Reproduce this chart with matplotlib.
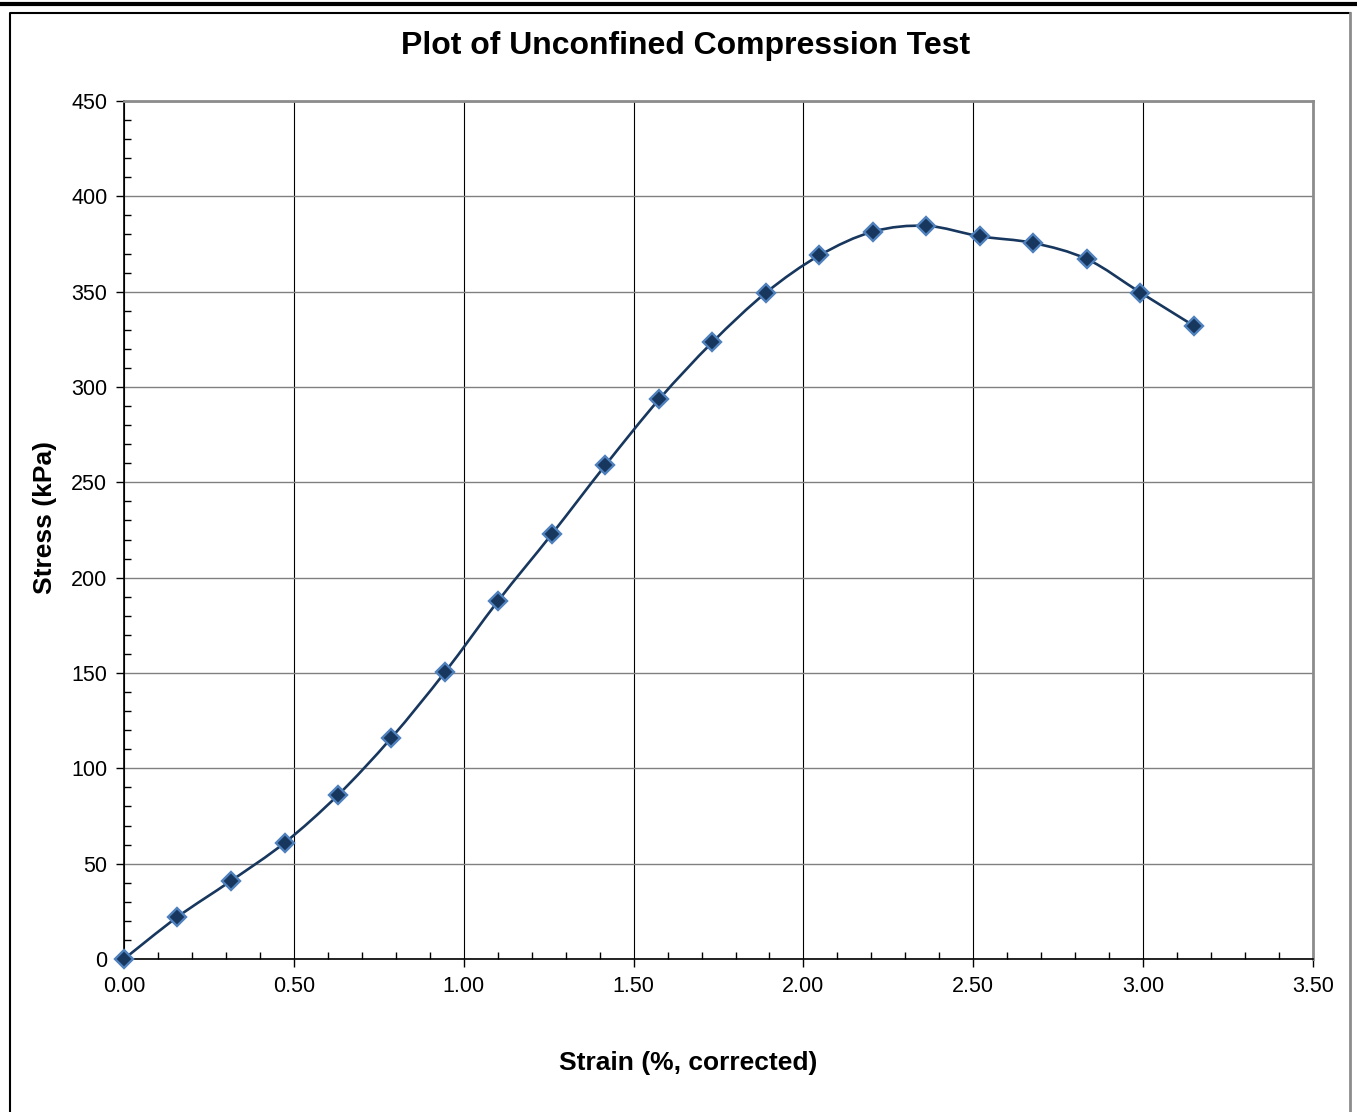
import matplotlib
matplotlib.use("Agg")
import matplotlib.pyplot as plt
from matplotlib.lines import Line2D
from matplotlib.path import Path
from matplotlib.patches import PathPatch
from matplotlib.ticker import MultipleLocator, FormatStrFormatter
import numpy as np

plt.rcParams["font.family"] = ["Liberation Sans", "DejaVu Sans"]

# strain (%, corrected) and stress (kPa)
strain = [0.000, 0.157, 0.315, 0.473, 0.630, 0.787, 0.945, 1.102, 1.260,
          1.417, 1.575, 1.732, 1.890, 2.047, 2.205, 2.362, 2.520, 2.677,
          2.835, 2.992, 3.150]
stress = [0.0, 22.0, 41.0, 61.0, 86.0, 116.0, 150.5, 188.0, 223.0,
          259.0, 293.5, 323.5, 349.5, 369.0, 381.5, 384.5, 379.0, 375.5,
          367.0, 349.5, 332.0]

title = "Plot of Unconfined Compression Test"
xlabel = "Strain (%, corrected)"
ylabel = "Stress (kPa)"

LINE = "#17375e"
EDGE = "#4f81bd"

fig = plt.figure(figsize=(13.57, 11.12), dpi=100)
ax = fig.add_axes([0.0914, 0.1376, 0.8762, 0.7716])


def smooth_path(xs, ys, t=1 / 6):
    # Excel-style smoothed line: cubic Bezier segments with Catmull-Rom tangents
    xs = np.asarray(xs, float)
    ys = np.asarray(ys, float)
    n = len(xs)
    verts = [(xs[0], ys[0])]
    codes = [Path.MOVETO]
    for i in range(n - 1):
        i0 = max(i - 1, 0)
        i3 = min(i + 2, n - 1)
        c1 = (xs[i] + (xs[i + 1] - xs[i0]) * t, ys[i] + (ys[i + 1] - ys[i0]) * t)
        c2 = (xs[i + 1] - (xs[i3] - xs[i]) * t, ys[i + 1] - (ys[i3] - ys[i]) * t)
        verts += [c1, c2, (xs[i + 1], ys[i + 1])]
        codes += [Path.CURVE4] * 3
    return Path(verts, codes)


ax.add_patch(PathPatch(smooth_path(strain, stress), facecolor="none",
                       edgecolor=LINE, linewidth=1.9, zorder=3))
ax.plot(strain, stress, linestyle="none", marker="D", markersize=9.5,
        markerfacecolor=LINE, markeredgecolor=EDGE, markeredgewidth=1.7,
        zorder=4, clip_on=False)

ax.set_xlim(0, 3.5)
ax.set_ylim(0, 450)
ax.xaxis.set_major_locator(MultipleLocator(0.5))
ax.xaxis.set_minor_locator(MultipleLocator(0.1))
ax.yaxis.set_major_locator(MultipleLocator(50))
ax.yaxis.set_minor_locator(MultipleLocator(10))
ax.xaxis.set_major_formatter(FormatStrFormatter("%.2f"))

# gridlines: vertical black, horizontal grey
ax.xaxis.grid(True, which="major", color="black", linewidth=0.8)
ax.yaxis.grid(True, which="major", color="#808080", linewidth=1.0)
ax.set_axisbelow(True)

ax.tick_params(axis="both", which="major", direction="out", length=6,
               width=1, labelsize=15.5, colors="black")
ax.tick_params(axis="both", which="minor", direction="in", length=5, width=1)
ax.tick_params(axis="x", which="major", pad=6)
ax.tick_params(axis="y", which="major", pad=6)

ax.spines["left"].set_color("black")
ax.spines["bottom"].set_color("black")
ax.spines["left"].set_linewidth(1.2)
ax.spines["bottom"].set_linewidth(1.2)
ax.spines["top"].set_color("#8c8c8c")
ax.spines["right"].set_color("#8c8c8c")
ax.spines["top"].set_linewidth(2)
ax.spines["right"].set_linewidth(2)

fig.text(0.505, 0.959, title, ha="center", va="center", fontsize=23,
         fontweight="bold")
fig.text(0.507, 0.044, xlabel, ha="center", va="center", fontsize=19,
         fontweight="bold")
fig.text(0.033, 0.535, ylabel, ha="center", va="center", fontsize=19,
         fontweight="bold", rotation=90)

# outer chart frame and header rule
fig.add_artist(Line2D([0, 1], [0.9960, 0.9960], color="black", linewidth=3,
                      transform=fig.transFigure))
fig.add_artist(Line2D([0.0077, 0.0077, 0.9950], [0.0, 0.9883, 0.9883],
                      color="black", linewidth=1.5, transform=fig.transFigure))
fig.add_artist(Line2D([0.9950, 0.9950], [0.0, 0.9883], color="#8c8c8c",
                      linewidth=2, transform=fig.transFigure))

fig.savefig("out.png", dpi=100, facecolor="white")
